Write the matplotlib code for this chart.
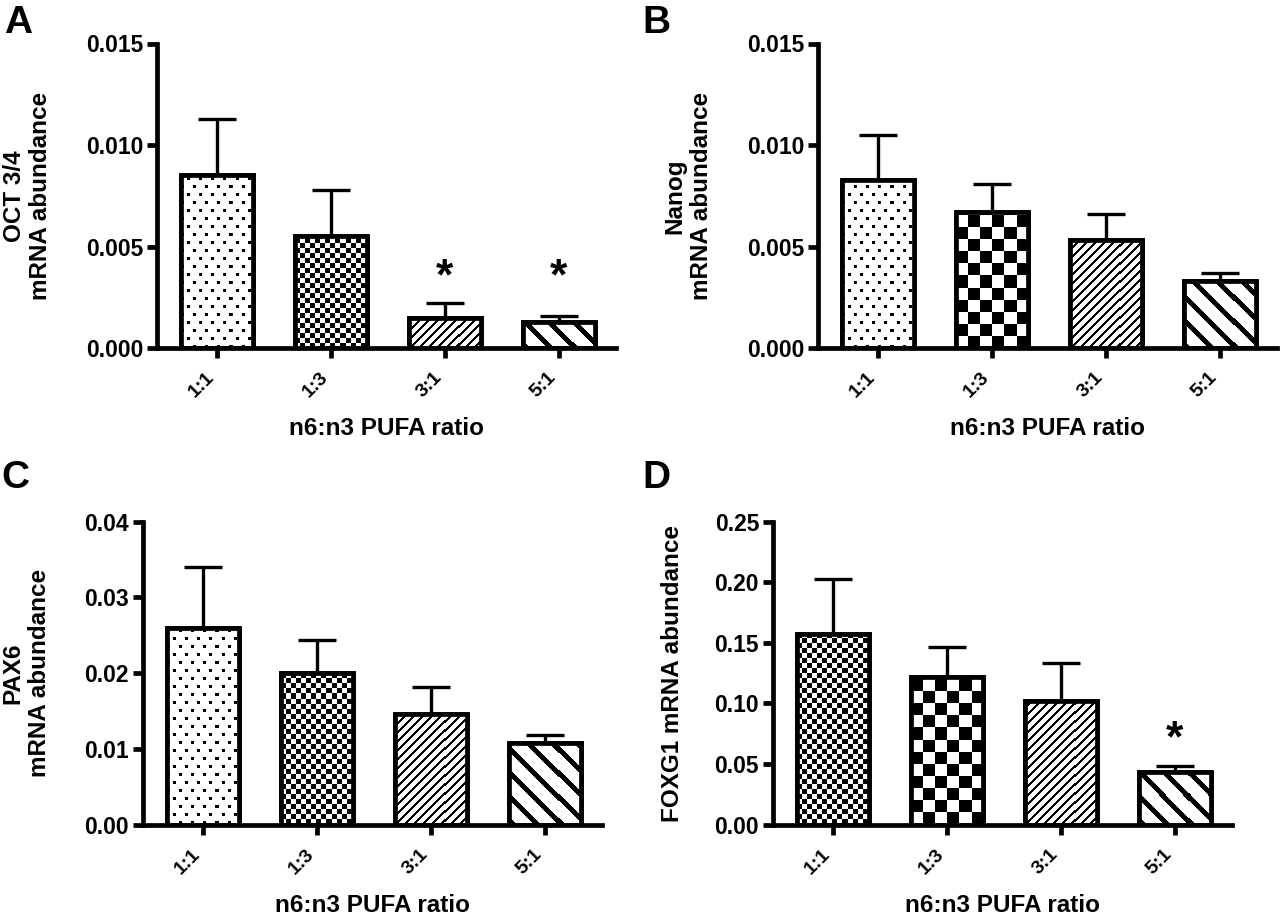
import numpy as np
import matplotlib
matplotlib.use('Agg')
import matplotlib.pyplot as plt
from matplotlib.ticker import FormatStrFormatter

plt.rcParams['font.family'] = ['Liberation Sans', 'DejaVu Sans']
plt.rcParams['font.weight'] = 'bold'
plt.rcParams['axes.labelweight'] = 'bold'

# ---- data ----
ratios = ['1:1', '1:3', '3:1', '5:1']

oct_mean = [0.0085, 0.0055, 0.0015, 0.00127]
oct_sem = [0.0028, 0.0023, 0.0007, 0.0003]
oct_sig = [False, False, True, True]

nanog_mean = [0.0083, 0.0067, 0.0053, 0.0033]
nanog_sem = [0.0022, 0.0014, 0.0013, 0.0004]
nanog_sig = [False, False, False, False]

pax6_mean = [0.0260, 0.0200, 0.0146, 0.0108]
pax6_sem = [0.0080, 0.0044, 0.0035, 0.0010]
pax6_sig = [False, False, False, False]

foxg1_mean = [0.157, 0.1215, 0.102, 0.043]
foxg1_sem = [0.0456, 0.0253, 0.0313, 0.0052]
foxg1_sig = [False, False, False, True]

FIG_W, FIG_H, DPI = 12.8, 9.17, 100
XLIM = (-0.53, 3.5)
BAR_W = 0.635
LW = 3.4


def pattern_image(kind, nrows, ncols):
    """pixel-level fill pattern (1 = black)"""
    r, c = np.indices((nrows, ncols))
    if kind == 'dots':
        a = ((r % 16) < 3) & ((c % 12) < 3)
        b = (((r + 8) % 16) < 3) & (((c + 6) % 12) < 3)
        return (a | b).astype(float)
    if kind == 'fine_check':
        return ((r // 5 + c // 5) % 2).astype(float)
    if kind == 'coarse_check':
        return ((r // 12 + c // 12) % 2).astype(float)
    if kind == 'fwd':
        return (((c - r) % 9) < 3).astype(float)
    if kind == 'back':
        return (((c + r) % 24) < 7).astype(float)
    return np.zeros((nrows, ncols))


def bar_panel(ax, means, sems, sig, ylim, yticks, fmt, ylabel, patterns, ylabelpad):
    x = np.arange(len(ratios))
    ax.set_xlim(*XLIM)
    ax.set_ylim(*ylim)

    pos = ax.get_position()
    px_x = pos.width * FIG_W * DPI / (XLIM[1] - XLIM[0])
    px_y = pos.height * FIG_H * DPI / (ylim[1] - ylim[0])

    ax.errorbar(x, means, yerr=[np.zeros(len(x)), sems], fmt='none', ecolor='black',
                elinewidth=2.4, capsize=14, capthick=2.4, zorder=1)
    bars = ax.bar(x, means, width=BAR_W, color='white', edgecolor='black', linewidth=LW, zorder=2)
    for bar, kind in zip(bars, patterns):
        x0, h = bar.get_x(), bar.get_height()
        ncols = int(np.ceil(BAR_W * px_x)) + 1
        nrows = int(np.ceil(h * px_y)) + 1
        img = pattern_image(kind, nrows, ncols)
        im = ax.imshow(img, cmap='gray_r', vmin=0, vmax=1, origin='lower', interpolation='nearest',
                       extent=(x0, x0 + ncols / px_x, 0, nrows / px_y), aspect='auto', zorder=2.5)
        im.set_clip_path(bar)
    ax.bar(x, means, width=BAR_W, fill=False, edgecolor='black', linewidth=LW, zorder=3)

    # significance marks
    tops = [m + s for m, s, f in zip(means, sems, sig) if f]
    if tops:
        y_star = max(tops) + 0.085 * ylim[1]
        for xi, f in zip(x, sig):
            if f:
                ax.text(xi, y_star, '*', ha='center', va='center', fontsize=32, fontweight='bold')

    ax.set_xlim(*XLIM)
    ax.set_ylim(*ylim)
    ax.set_yticks(yticks)
    ax.yaxis.set_major_formatter(FormatStrFormatter(fmt))
    ax.set_xticks(x)
    ax.set_xticklabels(ratios, rotation=45, ha='right', fontsize=14, fontweight='bold')
    ax.tick_params(axis='y', direction='out', length=7, width=LW, labelsize=16.5, pad=3)
    ax.tick_params(axis='x', direction='out', length=7, width=LW, pad=8)
    for s in ['top', 'right']:
        ax.spines[s].set_visible(False)
    for s in ['left', 'bottom']:
        ax.spines[s].set_linewidth(LW)
        ax.spines[s].set_capstyle('projecting')
    ax.set_xlabel('n6:n3 PUFA ratio', fontsize=17.5, labelpad=12)
    ax.set_ylabel(ylabel, fontsize=17.5, labelpad=ylabelpad, multialignment='center')


fig = plt.figure(figsize=(FIG_W, FIG_H), dpi=DPI)

ax_w = (XLIM[1] - XLIM[0]) * 113.8 / (FIG_W * DPI)
top_h = (348 - 43.5) / (FIG_H * DPI)
bot_h = (824.5 - 521.7) / (FIG_H * DPI)
axA = fig.add_axes([157 / 1280, 1 - 348 / 917, ax_w, top_h])
axB = fig.add_axes([818 / 1280, 1 - 348 / 917, ax_w, top_h])
axC = fig.add_axes([143 / 1280, 1 - 824.5 / 917, ax_w, bot_h])
axD = fig.add_axes([773 / 1280, 1 - 824.5 / 917, ax_w, bot_h])

bar_panel(axA, oct_mean, oct_sem, oct_sig, (0, 0.015), [0, 0.005, 0.010, 0.015], '%.3f',
          'OCT 3/4\nmRNA abundance', ['dots', 'fine_check', 'fwd', 'back'], 24)
bar_panel(axB, nanog_mean, nanog_sem, nanog_sig, (0, 0.015), [0, 0.005, 0.010, 0.015], '%.3f',
          'Nanog\nmRNA abundance', ['dots', 'coarse_check', 'fwd', 'back'], 24)
bar_panel(axC, pax6_mean, pax6_sem, pax6_sig, (0, 0.04), [0, 0.01, 0.02, 0.03, 0.04], '%.2f',
          'PAX6\nmRNA abundance', ['dots', 'fine_check', 'fwd', 'back'], 24)
bar_panel(axD, foxg1_mean, foxg1_sem, foxg1_sig, (0, 0.25), [0, 0.05, 0.10, 0.15, 0.20, 0.25], '%.2f',
          'FOXG1 mRNA abundance', ['fine_check', 'coarse_check', 'fwd', 'back'], 22)

for letter, fx, fy in [('A', 0.003, 0.995), ('B', 0.502, 0.995), ('C', 0.001, 0.498), ('D', 0.502, 0.498)]:
    fig.text(fx, fy, letter, fontsize=28, fontweight='bold', va='top', ha='left')

fig.savefig('out.png', dpi=DPI)
